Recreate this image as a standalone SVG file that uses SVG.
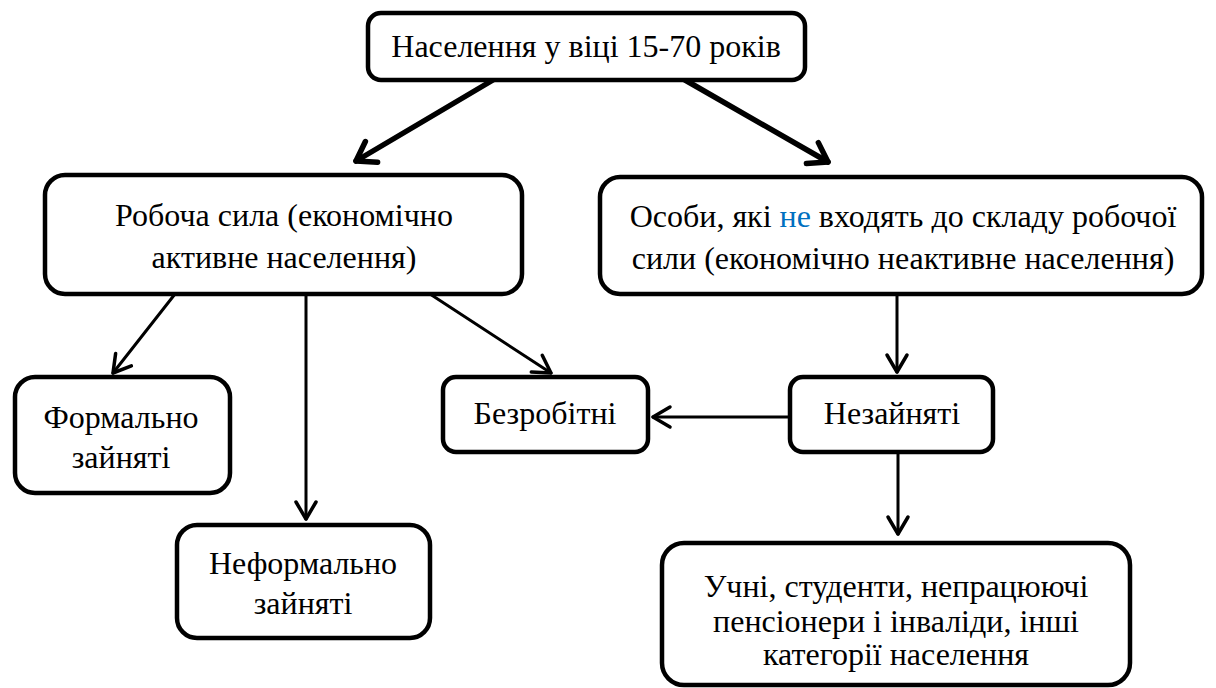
<svg xmlns="http://www.w3.org/2000/svg" width="1216" height="688" viewBox="0 0 1216 688">
<style>
.box{fill:#fff;stroke:#000;stroke-width:4.5}
.t{font-family:"Liberation Serif","Times New Roman",serif;font-size:32px;fill:#000;text-anchor:middle}
.c{fill:none;stroke:#000;stroke-linecap:round}
.thick{stroke-width:5.5}
.thin{stroke-width:3}
</style>
<defs>
<marker id="ah" markerUnits="userSpaceOnUse" markerWidth="40" markerHeight="40" refX="0" refY="0" viewBox="-20 -20 40 40" orient="auto" overflow="visible">
<path d="M-17,-10 L0,0 L-17,10" fill="none" stroke="#000" stroke-width="3.5" stroke-linecap="round" stroke-linejoin="round"/>
</marker>
<marker id="ahb" markerUnits="userSpaceOnUse" markerWidth="40" markerHeight="40" refX="0" refY="0" viewBox="-20 -20 40 40" orient="auto" overflow="visible">
<path d="M-18,-12 L0,0 L-18,12" fill="none" stroke="#000" stroke-width="5.5" stroke-linecap="round" stroke-linejoin="round"/>
</marker>
</defs>
<g id="connectors">
<line class="c thick" x1="493" y1="80" x2="356" y2="161" marker-end="url(#ahb)"/>
<line class="c thick" x1="685" y1="80" x2="828" y2="162" marker-end="url(#ahb)"/>
<line class="c thin" x1="175" y1="294" x2="113" y2="373" marker-end="url(#ah)"/>
<line class="c thin" x1="306" y1="294" x2="306" y2="519" marker-end="url(#ah)"/>
<line class="c thin" x1="430" y1="294" x2="551" y2="373" marker-end="url(#ah)"/>
<line class="c thin" x1="897" y1="294" x2="897" y2="372" marker-end="url(#ah)"/>
<line class="c thin" x1="790" y1="417" x2="653" y2="417" marker-end="url(#ah)"/>
<line class="c thin" x1="898" y1="452" x2="898" y2="534" marker-end="url(#ah)"/>
</g>
<g id="n-top">
<rect class="box" x="368" y="13" width="437" height="67" rx="13"/>
<text class="t" x="586" y="57">Населення у віці 15-70 років</text>
</g>
<g id="n-labor">
<rect class="box" x="45" y="175" width="477" height="119" rx="20"/>
<text class="t" x="284" y="226">Робоча сила (економічно</text>
<text class="t" x="284" y="268">активне населення)</text>
</g>
<g id="n-inactive">
<rect class="box" x="600" y="177" width="602" height="117" rx="20"/>
<text class="t" x="903" y="227">Особи, які <tspan fill="#0070c0">не</tspan> входять до складу робочої</text>
<text class="t" x="903" y="269">сили (економічно неактивне населення)</text>
</g>
<g id="n-formal">
<rect class="box" x="15" y="377" width="215" height="116" rx="20"/>
<text class="t" x="121" y="428">Формально</text>
<text class="t" x="121" y="468">зайняті</text>
</g>
<g id="n-unemployed">
<rect class="box" x="443" y="377" width="205" height="75" rx="13"/>
<text class="t" x="545" y="424">Безробітні</text>
</g>
<g id="n-notemployed">
<rect class="box" x="790" y="377" width="203" height="75" rx="13"/>
<text class="t" x="892" y="424">Незайняті</text>
</g>
<g id="n-informal">
<rect class="box" x="177" y="525" width="253" height="113" rx="20"/>
<text class="t" x="303" y="574">Неформально</text>
<text class="t" x="303" y="614">зайняті</text>
</g>
<g id="n-students">
<rect class="box" x="662" y="543" width="468" height="142" rx="22"/>
<text class="t" x="896" y="597">Учні, студенти, непрацюючі</text>
<text class="t" x="896" y="632">пенсіонери і інваліди, інші</text>
<text class="t" x="896" y="665">категорії населення</text>
</g>
</svg>
